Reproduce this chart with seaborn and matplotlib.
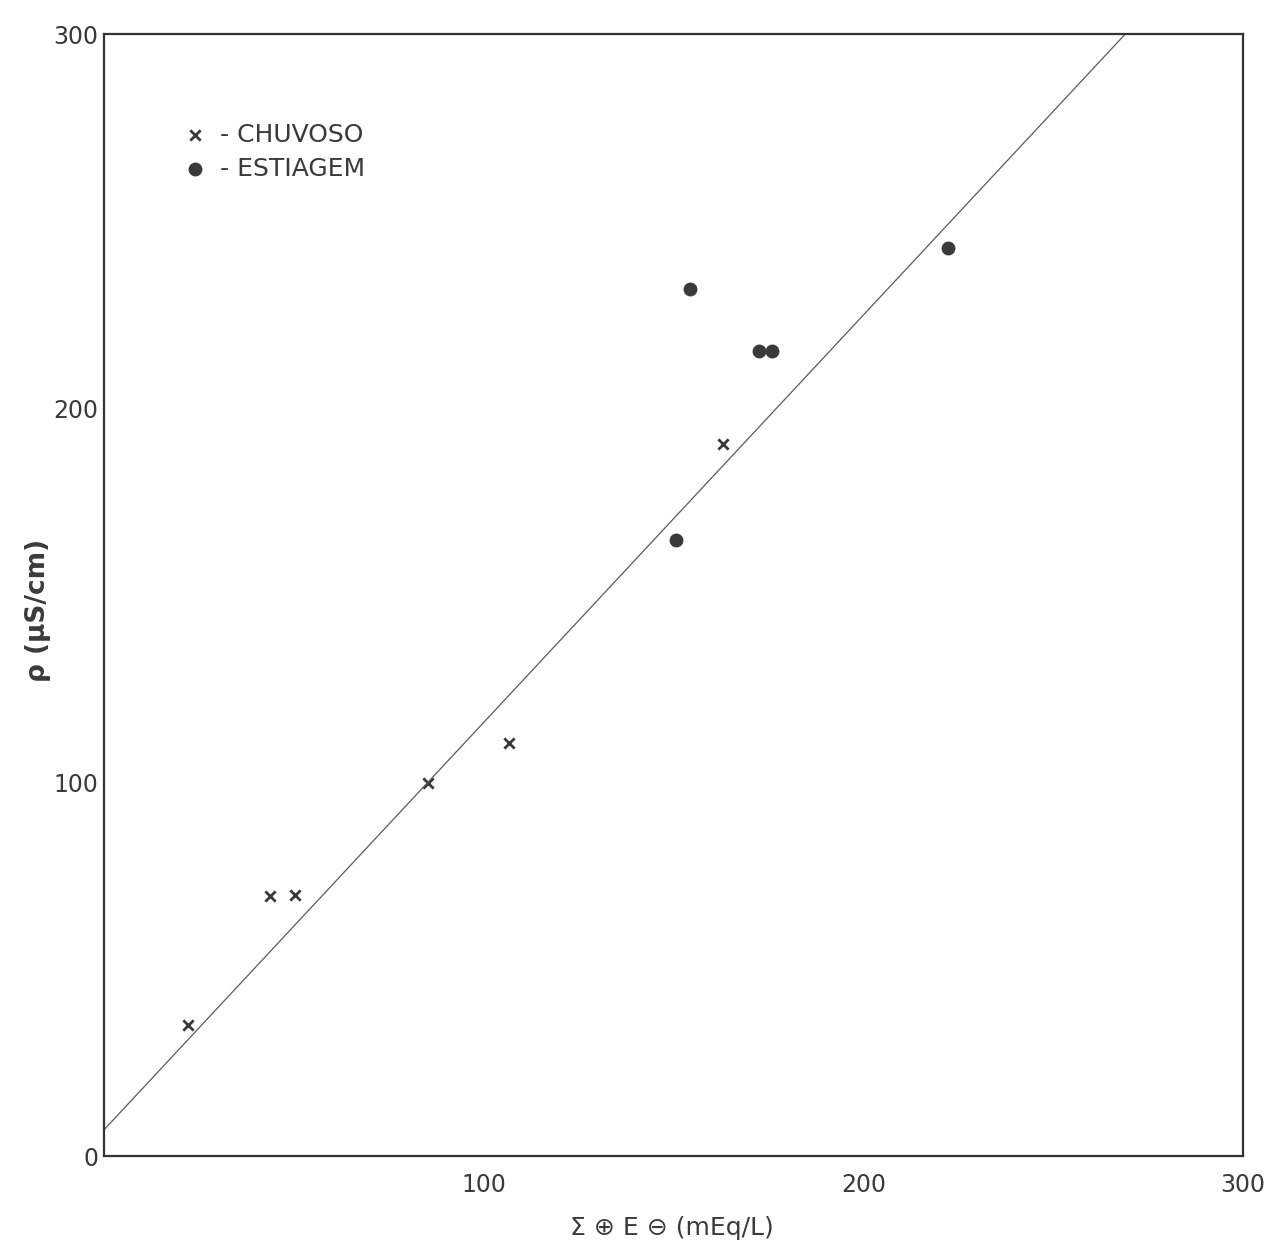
import matplotlib
matplotlib.use("Agg")
import matplotlib.pyplot as plt
import seaborn as sns
import pandas as pd

# Rainy-season samples (x marks)
chuvoso_soma = [22.0, 43.7, 50.3, 85.4, 106.7, 163.0]
chuvoso_cond = [35.0, 69.4, 69.7, 99.8, 110.4, 190.4]

# Dry-season samples (filled dots)
estiagem_soma = [154.4, 172.6, 176.0, 150.7, 222.3]
estiagem_cond = [231.7, 215.3, 215.3, 164.8, 242.8]

# Fitted straight line (end points)
reta_x = [0.0, 269.0]
reta_y = [7.0, 300.0]

x_ticks = [100, 200, 300]
y_ticks = [0, 100, 200, 300]

chuv = pd.DataFrame({"soma": chuvoso_soma, "cond": chuvoso_cond})
esti = pd.DataFrame({"soma": estiagem_soma, "cond": estiagem_cond})
reta = pd.DataFrame({"x": reta_x, "y": reta_y})

sns.set_theme(style="white")
plt.rcParams["font.family"] = ["DejaVu Sans"]

ink = "#3a3a3a"
fig = plt.figure(figsize=(12.65, 12.6), dpi=100)
ax = fig.add_axes([104 / 1265, 104 / 1260, 1139 / 1265, 1122 / 1260])

sns.lineplot(data=reta, x="x", y="y", ax=ax, color="#5a5a5a", linewidth=0.9)
sns.scatterplot(data=chuv, x="soma", y="cond", marker="x", s=55,
                color=ink, linewidth=2.0, ax=ax, label="- CHUVOSO")
sns.scatterplot(data=esti, x="soma", y="cond", marker="o", s=100,
                color=ink, edgecolor=ink, linewidth=0, ax=ax, label="- ESTIAGEM")

ax.set_xlim(0, 300)
ax.set_ylim(0, 300)
ax.set_xticks(x_ticks)
ax.set_yticks(y_ticks)
ax.set_xticklabels([str(v) for v in x_ticks], fontsize=17, color=ink)
ax.set_yticklabels([str(v) for v in y_ticks], fontsize=17, color=ink)
ax.tick_params(axis="x", length=0, pad=12)
ax.tick_params(axis="y", length=0, pad=4)
ax.set_xlabel("")
ax.set_ylabel("")
for sp in ax.spines.values():
    sp.set_visible(True)
    sp.set_color("#333333")
    sp.set_linewidth(1.6)

leg = ax.legend(
    loc="upper left", bbox_to_anchor=(0.058, 0.93), frameon=False,
    fontsize=18, handletextpad=0.4, labelspacing=0.42, handlelength=1.2,
    borderaxespad=0,
)
for t in leg.get_texts():
    t.set_color(ink)

fig.text(38 / 1265, 1 - 610 / 1260, "ρ (μS/cm)", rotation=90, fontsize=19,
         ha="center", va="center", color=ink, fontweight="bold")
fig.text(672 / 1265, 1 - 1228 / 1260, "Σ ⊕ E ⊖ (mEq/L)", fontsize=18,
         ha="center", va="center", color=ink)

fig.savefig("out.png", dpi=100, facecolor="white")
